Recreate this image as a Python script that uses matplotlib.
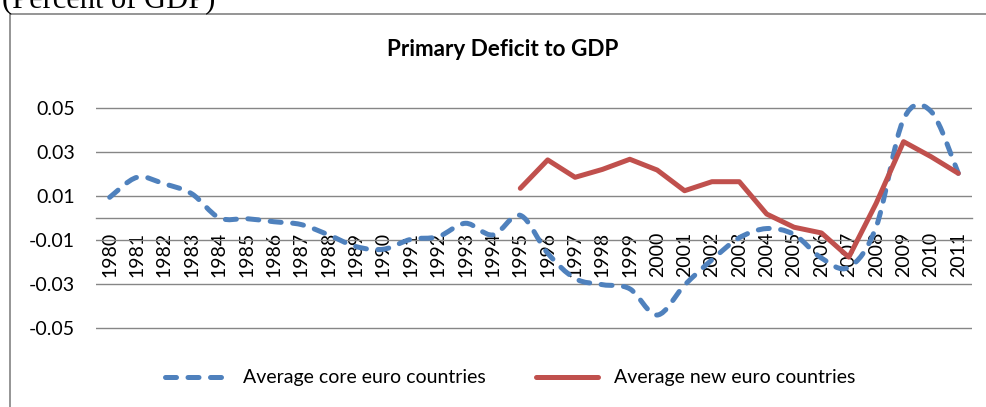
import numpy as np
import matplotlib
matplotlib.use("Agg")
import matplotlib.pyplot as plt
from matplotlib.path import Path
from matplotlib.patches import PathPatch, Rectangle
from matplotlib.lines import Line2D

plt.rcParams['font.family'] = ['Lato', 'DejaVu Sans']
plt.rcParams['axes.unicode_minus'] = False

# ---- data ----
years = [str(y) for y in range(1980, 2012)]
core_euro = [0.0094, 0.0185, 0.0155, 0.0110, 0.0001, -0.0003, -0.0017, -0.0030,
             -0.0077, -0.0130, -0.0142, -0.0097, -0.0085, -0.0024, -0.0077, 0.0012,
             -0.0160, -0.0275, -0.0303, -0.0322, -0.0441, -0.0305, -0.0190, -0.0090,
             -0.0048, -0.0075, -0.0182, -0.0224, -0.0040, 0.0449, 0.0485, 0.0203]
new_euro = [np.nan] * 15 + [0.0135, 0.0264, 0.0185, 0.0221, 0.0267, 0.0218, 0.0124,
                            0.0165, 0.0165, 0.0018, -0.0042, -0.0068, -0.0178, 0.0067,
                            0.0347, 0.0279, 0.0203]
ytick_vals = [-0.05, -0.03, -0.01, 0.01, 0.03, 0.05]
ytick_labels = ['-0.05', '-0.03', '-0.01', '0.01', '0.03', '0.05']
title = 'Primary Deficit to GDP'
unit_note = '(Percent of GDP)'
labels = ['Average core euro countries', 'Average new euro countries']

BLUE = '#4F81BD'
RED = '#C0504D'
GRID = '#868686'
LW = 3.6

W, H = 987, 407
fig = plt.figure(figsize=(W / 100, H / 100), dpi=100)

# axes placement (pixels)
left_px, right_px = 96, 972
pad = 0.001
top_px = 218 - 2200 * (0.05 + pad)
bot_px = 218 + 2200 * (0.05 + pad)
ax = fig.add_axes([left_px / W, (H - bot_px) / H, (right_px - left_px) / W, (bot_px - top_px) / H])
ax.set_xlim(-0.5, len(years) - 0.5)
ax.set_ylim(-0.05 - pad, 0.05 + pad)

for s in ['top', 'right', 'left']:
    ax.spines[s].set_visible(False)
ax.spines['bottom'].set_position(('data', 0))
ax.spines['bottom'].set_color(GRID)
ax.spines['bottom'].set_linewidth(1.0)

ax.set_yticks(ytick_vals)
ax.set_yticklabels(ytick_labels)
ax.yaxis.grid(True, color=GRID, linewidth=1.0)
ax.set_axisbelow(True)
ax.tick_params(axis='y', length=0, pad=15, labelsize=14)

x = np.arange(len(years))
ax.set_xticks(x)
ax.set_xticklabels(years, rotation=90)
ax.tick_params(axis='x', length=0, pad=10, labelsize=14)

# smoothed path for core series (Catmull-Rom style Bezier through data points)
pts = np.column_stack([x, core_euro]).astype(float)
ext = np.vstack([pts[0], pts, pts[-1]])
verts = [tuple(pts[0])]
codes = [Path.MOVETO]
for i in range(1, len(ext) - 2):
    p0, p1, p2, p3 = ext[i - 1], ext[i], ext[i + 1], ext[i + 2]
    c1 = p1 + (p2 - p0) / 6.0
    c2 = p2 - (p3 - p1) / 6.0
    verts += [tuple(c1), tuple(c2), tuple(p2)]
    codes += [Path.CURVE4] * 3
dash = (0, (2.2, 2.3))
patch = PathPatch(Path(verts, codes), facecolor='none', edgecolor=BLUE, linewidth=LW,
                  linestyle=dash, capstyle='round', joinstyle='round', clip_on=False, zorder=3)
ax.add_patch(patch)

ax.plot(x, new_euro, color=RED, linewidth=LW, solid_capstyle='round',
        solid_joinstyle='round', clip_on=False, zorder=4)

# title and note
fig.text(503 / W, 1 - 56.5 / H, title, ha='center', va='baseline', fontsize=16.2, fontweight='bold')
fig.text(2 / W, 1 - 7 / H, unit_note, ha='left', va='baseline', fontsize=22,
         family=['Liberation Serif', 'DejaVu Serif'])

# chart border
fig.patches.append(Rectangle((10.5 / W, -0.02), 1.0, (H - 13.5) / H + 0.02,
                             transform=fig.transFigure, fill=False, edgecolor='#8C8C8C',
                             linewidth=1.3, zorder=0))

handles = [Line2D([], [], color=BLUE, linewidth=LW, linestyle=dash, dash_capstyle='round'),
           Line2D([], [], color=RED, linewidth=LW, solid_capstyle='round')]
fig.legend(handles, labels, loc='center', bbox_to_anchor=(510 / W, 1 - 378 / H), ncol=2,
           frameon=False, fontsize=14, handlelength=3.2, handletextpad=0.8,
           columnspacing=2.6, borderpad=0)

fig.savefig('out.png', dpi=100)
